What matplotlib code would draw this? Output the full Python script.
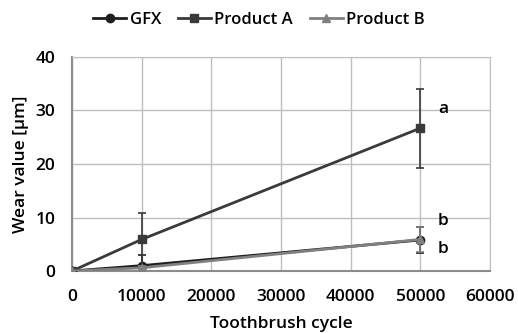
import matplotlib
matplotlib.use("Agg")
import matplotlib.pyplot as plt
from matplotlib.lines import Line2D

plt.rcParams['font.family'] = ['Open Sans', 'DejaVu Sans']
plt.rcParams['font.weight'] = 'semibold'
plt.rcParams['axes.labelweight'] = 'semibold'

cycles = [0, 10000, 50000]
gfx = [0.0, 1.0, 5.8]
gfx_err = [0.0, 2.0, 2.5]
prod_a = [0.0, 5.9, 26.7]
prod_a_err = [0.0, 5.0, 7.4]
prod_b = [0.0, 0.6, 5.9]
prod_b_err = [0.0, 0.3, 2.3]

xticks = [0, 10000, 20000, 30000, 40000, 50000, 60000]
yticks = [0, 10, 20, 30, 40]

fs = 12.5
fig = plt.figure(figsize=(5.18, 3.33), dpi=100)
ax = fig.add_axes([72/518, 62/333, 418/518, 214/333])

series = [
    ('GFX', gfx, gfx_err, '#1e1e1e', 'o', 3),
    ('Product A', prod_a, prod_a_err, '#3a3a3a', 's', 4),
    ('Product B', prod_b, prod_b_err, '#808080', '^', 5),
]
handles = []
for name, vals, err, col, mk, z in series:
    ax.errorbar(cycles, vals, yerr=err, color=col, marker=mk, capsize=3,
                elinewidth=1.2, capthick=1.2, linewidth=2, markersize=6, zorder=z)
    handles.append(Line2D([], [], color=col, marker=mk, linewidth=2, markersize=6, label=name))

ax.set_xlim(0, 60000)
ax.set_ylim(0, 40)
ax.set_xticks(xticks)
ax.set_yticks(yticks)
ax.grid(True, color='#bfbfbf', linewidth=1)
ax.set_axisbelow(True)
for s in ['top', 'right']:
    ax.spines[s].set_color('#bfbfbf')
for s in ['left', 'bottom']:
    ax.spines[s].set_color('#8c8c8c')
    ax.spines[s].set_linewidth(1.5)
ax.tick_params(axis='x', length=0, labelsize=fs, pad=13)
ax.tick_params(axis='y', length=0, labelsize=fs, pad=12)
ax.set_xlabel('Toothbrush cycle', fontsize=fs, labelpad=8)
ax.set_ylabel('Wear value [µm]', fontsize=fs, labelpad=5)

ax.text(52500, 30.3, 'a', fontsize=fs, va='center')
ax.text(52500, 9.4, 'b', fontsize=fs, va='center')
ax.text(52500, 4.2, 'b', fontsize=fs, va='center')

fig.legend(handles=handles, loc='upper center', bbox_to_anchor=(0.5, 1.01), ncol=3,
           frameon=False, fontsize=12, handlelength=2.0, columnspacing=1.0, handletextpad=0.2)

fig.savefig('out.png', dpi=100)
